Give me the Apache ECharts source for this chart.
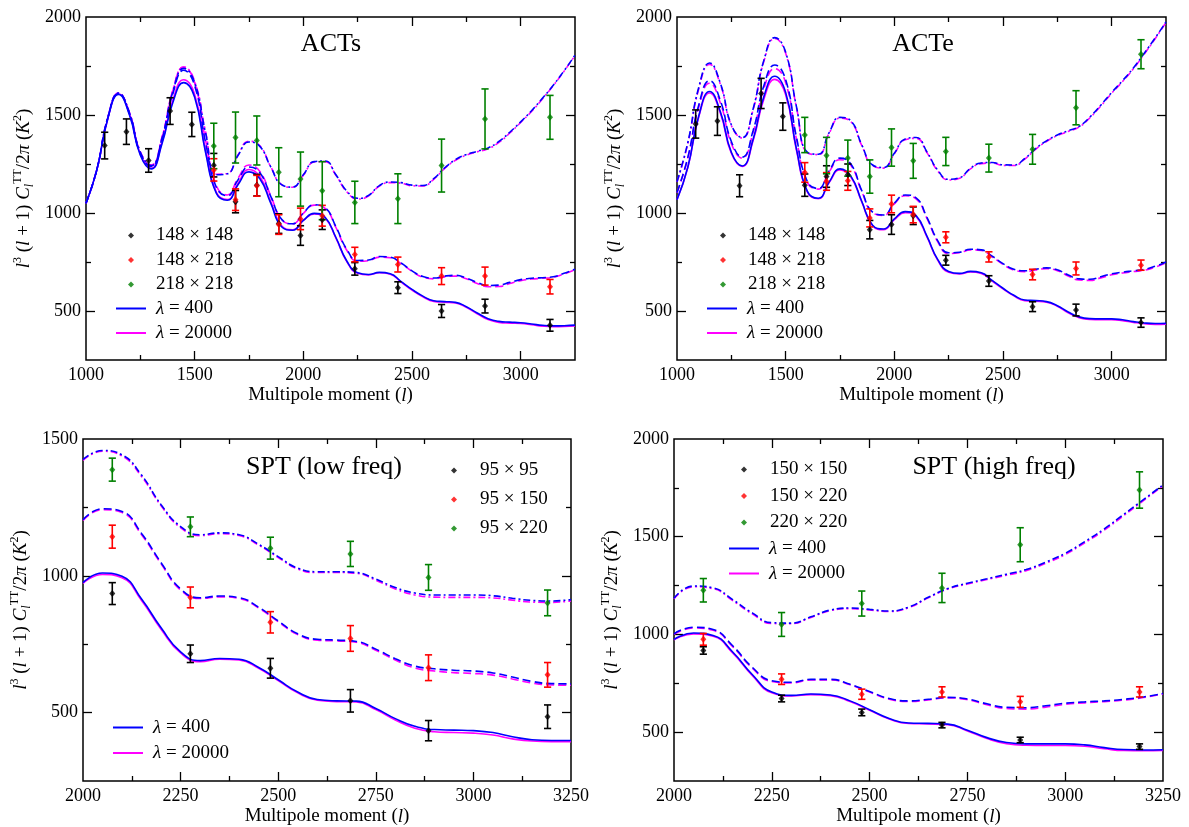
<!DOCTYPE html>
<html><head><meta charset="utf-8">
<script src="https://cdn.jsdelivr.net/npm/echarts@6/dist/echarts.min.js"></script>
<style>html,body{margin:0;padding:0;background:#fff}#c{width:1189px;height:827px}</style>
</head><body><div id="c"></div>
<script>
// ---------- model curves: multipole grids ----------
const L_ACT = [1000,1050,1100,1150,1200,1250,1300,1350,1400,1450,1500,1550,1600,1650,1700,1750,1800,1850,1900,1950,2000,2050,2100,2150,2200,2250,2300,2350,2400,2450,2500,2550,2600,2650,2700,2750,2800,2850,2900,2950,3000,3050,3100,3150,3200,3250];
const L_SPT = [2000,2050,2100,2150,2200,2250,2300,2350,2400,2450,2500,2550,2600,2650,2700,2750,2800,2850,2900,2950,3000,3050,3100,3150,3200,3250];

// ACTs
const ACTs_148x148_L400   = [1050,1220,1480,1605,1500,1295,1225,1355,1565,1665,1590,1310,1100,1065,1145,1210,1175,1050,930,912,962,998,978,875,755,695,686,697,690,650,610,576,552,548,544,522,490,461,447,443,440,434,427,424,425,428];
const ACTs_148x148_L20000 = [1050,1220,1480,1607,1505,1300,1228,1362,1578,1680,1605,1320,1105,1068,1152,1222,1186,1058,935,914,962,995,975,872,752,692,684,695,688,648,607,573,549,545,541,519,486,456,442,438,436,430,423,420,421,424];
const ACTs_148x218_L400   = [1050,1222,1485,1610,1508,1305,1238,1375,1610,1728,1650,1360,1130,1088,1170,1235,1205,1085,968,945,1000,1042,1027,930,815,758,760,778,775,745,705,676,668,678,682,668,645,630,632,646,660,667,670,675,692,713];
const ACTs_148x218_L20000 = [1050,1222,1485,1612,1512,1310,1242,1385,1625,1745,1665,1372,1138,1092,1178,1245,1212,1088,968,944,998,1040,1024,926,810,754,757,775,772,742,702,672,664,674,678,664,640,624,625,640,655,663,667,672,689,710];
const ACTs_218x218_L400   = [1050,1222,1485,1612,1510,1310,1242,1382,1620,1738,1665,1410,1195,1200,1295,1362,1340,1235,1145,1132,1195,1262,1265,1195,1112,1075,1090,1140,1158,1155,1142,1140,1175,1230,1272,1298,1315,1332,1365,1412,1465,1522,1585,1652,1726,1805];
const ACTs_218x218_L20000 = [1050,1222,1485,1612,1512,1312,1245,1388,1628,1745,1672,1415,1198,1202,1298,1366,1343,1236,1145,1131,1193,1260,1262,1192,1108,1071,1087,1137,1155,1152,1139,1138,1172,1227,1269,1295,1312,1328,1360,1408,1462,1518,1582,1650,1724,1803];
// ACTe
const ACTe_148x148_L400   = [1068,1235,1495,1620,1515,1310,1240,1375,1595,1698,1615,1325,1110,1075,1158,1225,1188,1060,938,918,970,1007,987,882,762,702,692,702,695,656,616,580,556,553,548,527,495,470,461,460,460,455,446,439,436,437];
const ACTe_148x148_L20000 = [1068,1233,1490,1612,1508,1305,1238,1368,1582,1682,1603,1318,1106,1073,1155,1220,1184,1057,935,915,966,1002,982,878,758,698,689,699,692,653,613,577,553,550,545,524,491,466,457,456,456,451,442,435,432,433];
const ACTe_148x218_L400   = [1105,1285,1550,1675,1572,1365,1285,1420,1650,1755,1680,1385,1160,1125,1215,1280,1250,1115,1005,990,1050,1092,1077,978,858,797,800,815,812,780,742,713,705,713,720,710,684,664,662,675,690,698,705,712,728,750];
const ACTe_148x218_L20000 = [1103,1280,1540,1662,1560,1355,1280,1410,1635,1737,1665,1375,1155,1122,1210,1272,1243,1110,1002,988,1047,1088,1072,973,853,793,797,812,809,777,738,709,701,709,716,706,679,658,656,669,685,694,701,708,724,746];
const ACTe_218x218_L400   = [1160,1360,1640,1765,1660,1450,1385,1530,1780,1895,1820,1540,1310,1300,1410,1488,1470,1348,1245,1232,1305,1378,1385,1312,1218,1172,1180,1228,1255,1258,1246,1245,1278,1328,1368,1398,1420,1442,1490,1550,1615,1675,1740,1815,1893,1975];
const ACTe_218x218_L20000 = [1158,1355,1633,1758,1655,1447,1383,1526,1775,1890,1815,1537,1307,1298,1407,1484,1466,1345,1242,1229,1302,1374,1381,1308,1214,1168,1177,1225,1252,1255,1243,1242,1275,1325,1365,1395,1416,1438,1486,1546,1611,1671,1736,1811,1889,1972];
// SPT low
const SPTlo_95x95_L400     = [975,1010,998,915,810,722,690,698,695,665,620,575,548,543,542,515,478,450,438,436,434,427,412,401,398,398];
const SPTlo_95x95_L20000   = [972,1005,993,910,805,718,686,695,692,662,617,572,545,540,539,511,473,443,430,427,425,418,404,396,394,394];
const SPTlo_95x150_L400    = [1205,1245,1235,1155,1048,952,920,926,920,885,835,788,768,765,760,732,697,670,660,655,652,645,630,614,606,605];
const SPTlo_95x150_L20000  = [1202,1242,1231,1150,1044,948,917,923,917,882,832,785,765,762,757,728,692,663,652,646,643,637,623,608,601,600];
const SPTlo_95x220_L400    = [1425,1458,1442,1368,1260,1180,1150,1157,1150,1115,1070,1028,1015,1015,1012,988,957,937,930,930,930,927,918,910,908,913];
const SPTlo_95x220_L20000  = [1422,1455,1438,1363,1256,1176,1147,1154,1147,1112,1067,1025,1012,1012,1009,984,952,930,922,921,921,919,911,904,903,908];
// SPT high
const SPThi_150x150_L400   = [975,1007,995,910,795,705,688,695,690,660,615,570,547,545,541,510,472,447,440,440,440,435,421,411,409,410];
const SPThi_150x150_L20000 = [972,1003,991,905,790,701,685,692,687,657,612,567,544,542,538,506,467,441,433,432,432,428,415,406,405,406];
const SPThi_150x220_L400   = [1003,1037,1025,942,832,763,755,770,770,745,708,672,660,668,678,670,645,627,625,635,648,655,660,668,680,698];
const SPThi_150x220_L20000 = [1000,1033,1021,937,828,759,752,767,767,742,705,669,657,665,675,666,640,621,618,628,642,650,656,664,677,695];
const SPThi_220x220_L400   = [1185,1248,1238,1178,1110,1060,1058,1090,1125,1135,1128,1120,1140,1190,1235,1262,1285,1308,1332,1370,1415,1475,1540,1615,1690,1765];
const SPThi_220x220_L20000 = [1182,1244,1234,1173,1105,1056,1055,1087,1122,1132,1125,1117,1137,1187,1232,1258,1281,1303,1326,1364,1409,1469,1534,1609,1685,1761];

// ---------- data points ----------
const ACT_L_all = [1086,1186,1288,1387,1487,1588,1688,1786,1887,1987,2087,2237,2435,2636,2836,3135];
const ACT_L_hi  = [1588,1688,1786,1887,1987,2087,2237,2435,2636,2836,3135];
const ACTs_148x148 = [1344,1415,1268,1520,1452,1244,1058,1142,946,885,966,715,619,500,525,427];
const ACTs_148x148_err = [68,65,60,68,62,60,57,55,50,50,50,32,30,33,35,30];
const ACTs_148x218 = [1220,1068,1139,941,970,986,788,737,678,678,624];
const ACTs_148x218_err = [57,55,53,50,55,53,37,38,43,46,37];
const ACTs_218x218 = [1342,1385,1370,1208,1173,1114,1054,1073,1242,1480,1488];
const ACTs_218x218_err = [116,130,125,125,138,148,108,127,135,153,112];

const ACTe_148x148 = [1454,1469,1139,1610,1492,1142,1186,1195,915,941,986,759,653,522,505,441];
const ACTe_148x148_err = [72,73,56,77,70,57,55,55,47,50,45,25,27,25,30,24];
const ACTe_148x218 = [1207,1161,1164,975,1046,992,876,776,686,717,734];
const ACTe_148x218_err = [50,45,48,46,45,42,28,26,27,33,26];
const ACTe_218x218 = [1398,1293,1280,1186,1334,1266,1314,1280,1325,1537,1810];
const ACTe_218x218_err = [90,93,92,85,95,89,72,71,76,87,74];

const SPT_L = [2075,2275,2480,2685,2885,3190];
const SPTlo_95x95 = [935,715,662,543,434,485];
const SPTlo_95x95_err = [40,32,36,41,37,43];
const SPTlo_95x150 = [1143,921,830,771,664,638];
const SPTlo_95x150_err = [42,38,39,47,47,45];
const SPTlo_95x220 = [1388,1179,1101,1080,994,901];
const SPTlo_95x220_err = [42,36,40,46,47,47];

const SPThi_150x150 = [918,672,601,536,460,426];
const SPThi_150x150_err = [19,17,17,14,14,14];
const SPThi_150x220 = [975,771,694,706,655,706];
const SPThi_150x220_err = [30,27,26,26,28,26];
const SPThi_220x220 = [1226,1051,1158,1238,1459,1739];
const SPThi_220x220_err = [60,61,64,75,87,93];

// ---------- axis ticks / labels ----------
const ACT_xLabels = [1000,1500,2000,2500,3000];
const ACT_xMajor  = [1500,2000,2500,3000];
const ACT_xMinor  = [1250,1750,2250,2750];
const SPT_xLabels = [2000,2250,2500,2750,3000,3250];
const SPT_xMajor  = [2250,2500,2750,3000];
const SPT_xMinor  = [2125,2375,2625,2875,3125];
const Y2000_labels = [500,1000,1500,2000];
const Y2000_major  = [500,1000,1500];
const Y2000_minor  = [750,1250,1750];
const Y1500_labels = [500,1000,1500];
const Y1500_major  = [500,1000];
const Y1500_minor  = [750,1250];

// ---------- builder ----------
const FONT = 'Liberation Serif';
const BLUE = '#0000ff', MAG = '#ff00ff', RED = '#ff0000', GREEN = '#008000', BLACK = '#000000';
const DASH = [8, 4], DASHDOT = [7, 3, 2, 3];
const grids = [], xAxes = [], yAxes = [], series = [], legends = [], graphics = [];

function tickAxis(base, pos, vals, len) {
  return Object.assign({}, base, {position: pos,
    axisLine: {show: false, onZero: false},
    axisTick: {show: true, inside: true, length: len, customValues: vals, lineStyle: {color: '#000', width: 1.3}},
    axisLabel: {show: false}});
}
const plainNum = v => String(Math.round(v));

function addPanel(p) {
  const gi = grids.length;
  grids.push(Object.assign({show: true, borderColor: '#000', borderWidth: 1.5, backgroundColor: 'transparent'}, p.grid));
  const xi = xAxes.length, yi = yAxes.length;
  const xb = {gridIndex: gi, type: 'value', min: p.x[0], max: p.x[1], splitLine: {show: false}};
  const yb = {gridIndex: gi, type: 'value', min: p.y[0], max: p.y[1], splitLine: {show: false}};
  const mainX = tickAxis(xb, 'bottom', p.xMaj, 9);
  mainX.axisLabel = {show: true, customValues: p.xLab, margin: 6, color: '#000', fontFamily: FONT, fontSize: 18, formatter: plainNum};
  mainX.name = 'Multipole moment ({i|l})';
  mainX.nameLocation = 'middle';
  mainX.nameGap = 26;
  mainX.nameTextStyle = {color: '#000', fontFamily: FONT, fontSize: 19,
    rich: {i: {fontStyle: 'italic', fontFamily: FONT, fontSize: 19, color: '#000'}}};
  xAxes.push(mainX, tickAxis(xb, 'bottom', p.xMin, 5), tickAxis(xb, 'top', p.xMaj, 9), tickAxis(xb, 'top', p.xMin, 5));
  const mainY = tickAxis(yb, 'left', p.yMaj, 9);
  mainY.axisLabel = {show: true, customValues: p.yLab, margin: 5, color: '#000', fontFamily: FONT, fontSize: 18, formatter: plainNum};
  mainY.name = '{i|l}{sp|3} ({i|l} + 1) {i|C}{sb|l}{sp|TT}/2{i|π} ({i|K}{sp|2})';
  mainY.nameLocation = 'middle';
  mainY.nameRotate = 90;
  mainY.nameGap = 50;
  mainY.nameTextStyle = {color: '#000', fontFamily: FONT, fontSize: 19, lineHeight: 24,
    rich: {
      i: {fontStyle: 'italic', fontFamily: FONT, fontSize: 19, color: '#000'},
      sp: {fontFamily: FONT, fontSize: 12, verticalAlign: 'top', lineHeight: 14, color: '#000'},
      sb: {fontFamily: FONT, fontStyle: 'italic', fontSize: 12, verticalAlign: 'bottom', lineHeight: 14, color: '#000'}
    }};
  yAxes.push(mainY, tickAxis(yb, 'left', p.yMin, 5), tickAxis(yb, 'right', p.yMaj, 9), tickAxis(yb, 'right', p.yMin, 5));

  // model curves
  p.curves.forEach(c => {
    series.push({type: 'line', name: c.name, xAxisIndex: xi, yAxisIndex: yi, smooth: true, symbol: 'none',
      data: c.L.map((l, i) => [l, c.v[i]]), z: c.z,
      lineStyle: {color: c.color, width: 1.6, type: c.type}, itemStyle: {color: c.color}, silent: true});
  });
  // data points with error bars
  p.points.forEach(d => {
    series.push({type: 'custom', xAxisIndex: xi, yAxisIndex: yi, z: 6, silent: true,
      data: d.L.map((l, i) => [l, d.v[i], d.e[i]]), encode: {x: 0, y: 1},
      renderItem: function (params, api) {
        const x = api.value(0), y = api.value(1), e = api.value(2);
        const t = api.coord([x, y + e]), b = api.coord([x, y - e]);
        const st = {stroke: d.color, lineWidth: 1.6};
        return {type: 'group', children: [
          {type: 'line', shape: {x1: t[0], y1: t[1], x2: b[0], y2: b[1]}, style: st},
          {type: 'line', shape: {x1: t[0] - 3.6, y1: t[1], x2: t[0] + 3.6, y2: t[1]}, style: st},
          {type: 'line', shape: {x1: b[0] - 3.6, y1: b[1], x2: b[0] + 3.6, y2: b[1]}, style: st}
        ]};
      }});
    series.push({type: 'scatter', name: d.name, xAxisIndex: xi, yAxisIndex: yi, z: 7, silent: true,
      data: d.L.map((l, i) => [l, d.v[i]]), symbol: 'diamond', symbolSize: [6, 7],
      itemStyle: {color: d.color}});
  });
  graphics.push({type: 'text', x: p.title[1], y: p.title[2], z: 100,
    style: {text: p.title[0], fill: '#000', font: '26px "Liberation Serif"', textAlign: 'center', textVerticalAlign: 'middle'}});
  const txt = pad => ({color: '#000', fontFamily: FONT, fontSize: 19, padding: [0, 0, 0, pad],
    rich: {i: {fontStyle: 'italic', fontFamily: FONT, fontSize: 19, color: '#000'}}});
  // marker legend (small diamonds)
  legends.push({orient: 'vertical', left: p.mleg.left, top: p.mleg.top, itemWidth: 6, itemHeight: 6, itemGap: p.mleg.gap,
    selectedMode: false, padding: 0,
    data: p.mleg.items.map(n => ({name: n, icon: 'diamond'})),
    textStyle: txt(p.mleg.pad)});
  // line legend (thin bars)
  legends.push({orient: 'vertical', left: p.lleg.left, top: p.lleg.top, itemWidth: 30, itemHeight: 2, itemGap: p.lleg.gap,
    selectedMode: false, padding: 0,
    data: ['λ = 400', 'λ = 20000'].map(n => ({name: n, icon: 'rect'})),
    formatter: n => '{i|λ}' + n.slice(1),
    textStyle: txt(5)});
}

function curveSet(L, blue, mag) {
  const types = ['solid', DASH, DASHDOT];
  const out = [];
  for (let k = 0; k < 3; k++) {
    out.push({name: 'λ = 400', L: L, v: blue[k], color: BLUE, type: types[k], z: 3});
    out.push({name: 'λ = 20000', L: L, v: mag[k], color: MAG, type: types[k], z: 2});
  }
  return out;
}

addPanel({
  grid: {left: 86, top: 17, width: 489, height: 343}, x: [1000, 3250], y: [250, 2000],
  xLab: ACT_xLabels, xMaj: ACT_xMajor, xMin: ACT_xMinor, yLab: Y2000_labels, yMaj: Y2000_major, yMin: Y2000_minor,
  curves: curveSet(L_ACT,
    [ACTs_148x148_L400, ACTs_148x218_L400, ACTs_218x218_L400],
    [ACTs_148x148_L20000, ACTs_148x218_L20000, ACTs_218x218_L20000]),
  points: [
    {name: '148 × 148', L: ACT_L_all, v: ACTs_148x148, e: ACTs_148x148_err, color: BLACK},
    {name: '148 × 218', L: ACT_L_hi, v: ACTs_148x218, e: ACTs_148x218_err, color: RED},
    {name: '218 × 218', L: ACT_L_hi, v: ACTs_218x218, e: ACTs_218x218_err, color: GREEN}],
  title: ['ACTs', 331, 44],
  mleg: {left: 128, top: 226, gap: 5.5, pad: 17, items: ['148 × 148', '148 × 218', '218 × 218']},
  lleg: {left: 116, top: 299, gap: 5.5}
});
addPanel({
  grid: {left: 677, top: 17, width: 489, height: 343}, x: [1000, 3250], y: [250, 2000],
  xLab: ACT_xLabels, xMaj: ACT_xMajor, xMin: ACT_xMinor, yLab: Y2000_labels, yMaj: Y2000_major, yMin: Y2000_minor,
  curves: curveSet(L_ACT,
    [ACTe_148x148_L400, ACTe_148x218_L400, ACTe_218x218_L400],
    [ACTe_148x148_L20000, ACTe_148x218_L20000, ACTe_218x218_L20000]),
  points: [
    {name: '148 × 148', L: ACT_L_all, v: ACTe_148x148, e: ACTe_148x148_err, color: BLACK},
    {name: '148 × 218', L: ACT_L_hi, v: ACTe_148x218, e: ACTe_148x218_err, color: RED},
    {name: '218 × 218', L: ACT_L_hi, v: ACTe_218x218, e: ACTe_218x218_err, color: GREEN}],
  title: ['ACTe', 923, 44],
  mleg: {left: 720, top: 226, gap: 5.5, pad: 17, items: ['148 × 148', '148 × 218', '218 × 218']},
  lleg: {left: 707, top: 299, gap: 5.5}
});
addPanel({
  grid: {left: 83, top: 439, width: 488, height: 342}, x: [2000, 3250], y: [250, 1500],
  xLab: SPT_xLabels, xMaj: SPT_xMajor, xMin: SPT_xMinor, yLab: Y1500_labels, yMaj: Y1500_major, yMin: Y1500_minor,
  curves: curveSet(L_SPT,
    [SPTlo_95x95_L400, SPTlo_95x150_L400, SPTlo_95x220_L400],
    [SPTlo_95x95_L20000, SPTlo_95x150_L20000, SPTlo_95x220_L20000]),
  points: [
    {name: '95 × 95', L: SPT_L, v: SPTlo_95x95, e: SPTlo_95x95_err, color: BLACK},
    {name: '95 × 150', L: SPT_L, v: SPTlo_95x150, e: SPTlo_95x150_err, color: RED},
    {name: '95 × 220', L: SPT_L, v: SPTlo_95x220, e: SPTlo_95x220_err, color: GREEN}],
  title: ['SPT (low freq)', 324, 467],
  mleg: {left: 451, top: 461, gap: 10, pad: 18, items: ['95 × 95', '95 × 150', '95 × 220']},
  lleg: {left: 113, top: 718, gap: 6.5}
});
addPanel({
  grid: {left: 674, top: 439, width: 489, height: 342}, x: [2000, 3250], y: [250, 2000],
  xLab: SPT_xLabels, xMaj: SPT_xMajor, xMin: SPT_xMinor, yLab: Y2000_labels, yMaj: Y2000_major, yMin: Y2000_minor,
  curves: curveSet(L_SPT,
    [SPThi_150x150_L400, SPThi_150x220_L400, SPThi_220x220_L400],
    [SPThi_150x150_L20000, SPThi_150x220_L20000, SPThi_220x220_L20000]),
  points: [
    {name: '150 × 150', L: SPT_L, v: SPThi_150x150, e: SPThi_150x150_err, color: BLACK},
    {name: '150 × 220', L: SPT_L, v: SPThi_150x220, e: SPThi_150x220_err, color: RED},
    {name: '220 × 220', L: SPT_L, v: SPThi_220x220, e: SPThi_220x220_err, color: GREEN}],
  title: ['SPT (high freq)', 994, 467],
  mleg: {left: 741, top: 460, gap: 7.5, pad: 18, items: ['150 × 150', '150 × 220', '220 × 220']},
  lleg: {left: 729, top: 539, gap: 6}
});

const chart = echarts.init(document.getElementById('c'), null, {renderer: 'canvas'});
chart.setOption({
  animation: false,
  backgroundColor: '#ffffff',
  textStyle: {fontFamily: FONT},
  grid: grids, xAxis: xAxes, yAxis: yAxes, legend: legends, series: series, graphic: graphics
});
</script></body></html>
